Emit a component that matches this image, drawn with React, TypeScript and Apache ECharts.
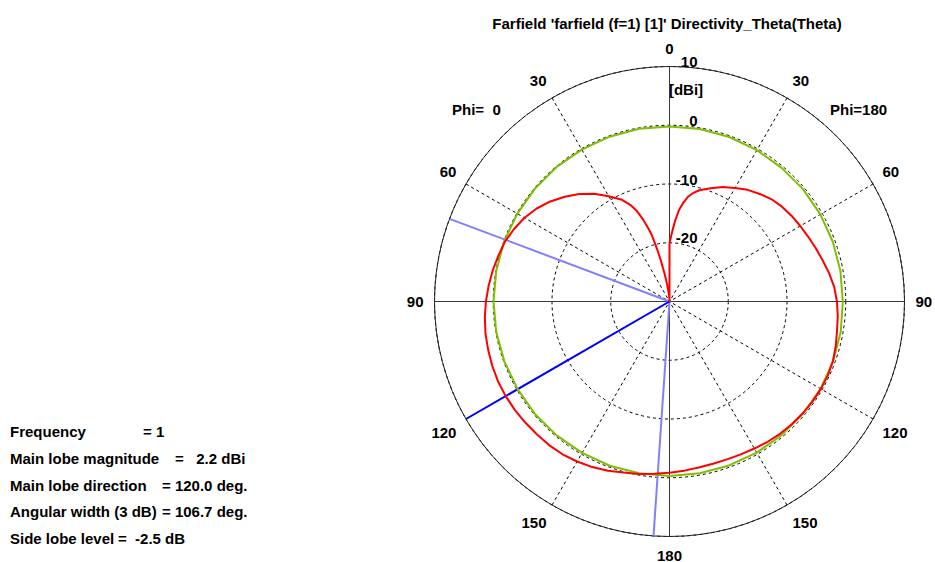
import React, { useEffect, useRef } from 'react';
import * as echarts from 'echarts';

// ---------------- data ----------------
const TITLE = "Farfield 'farfield (f=1) [1]' Directivity_Theta(Theta)";
const RADIUS_MIN = -30;
const RADIUS_MAX = 10;
const RADIUS_STEP = 10;
const ANGLE_STEP = 30;
const UNIT = '[dBi]';
const LEFT_CUT = 'Phi=  0';
const RIGHT_CUT = 'Phi=180';

// Directivity_Theta, Phi = 180 cut (right half), theta in degrees
const thetaPhi180 = [0, 2, 4, 6, 8, 10, 12, 15, 20, 25, 30, 35, 40, 45, 50, 55, 60, 65, 70, 75, 80, 85, 90, 95, 100, 105, 110, 115, 120, 125, 130, 135, 140, 145, 150, 155, 160, 165, 170, 175, 180];
const dirPhi180 = [-20.1, -18.3, -16.2, -14.3, -13.0, -11.9, -11.2, -10.4, -9.5, -8.5, -7.7, -6.8, -6.1, -5.4, -4.95, -4.6, -4.3, -3.95, -3.5, -3.0, -2.4, -1.85, -1.5, -1.25, -1.05, -0.7, -0.4, -0.25, -0.25, -0.3, -0.4, -0.5, -0.65, -0.85, -1.1, -1.3, -1.4, -1.4, -1.3, -1.1, -0.85];

// Directivity_Theta, Phi = 0 cut (left half), theta in degrees
const thetaPhi0 = [0, 4, 8, 10, 12, 13, 14, 15, 16, 18, 20, 22, 25, 30, 35, 40, 45, 50, 55, 60, 65, 70, 75, 80, 85, 90, 95, 100, 105, 110, 115, 120, 125, 130, 135, 140, 145, 150, 155, 160, 165, 170, 175, 180];
const dirPhi0 = [-30, -29, -27, -25.3, -22.8, -21.4, -19.8, -18.2, -17.2, -15.2, -13.5, -12.3, -10.9, -9.3, -7.6, -6.1, -4.8, -3.5, -2.4, -1.5, -0.8, -0.2, 0.15, 0.55, 0.9, 1.25, 1.55, 1.8, 1.95, 2.1, 2.2, 2.2, 2.15, 2.05, 1.95, 1.9, 1.75, 1.45, 1.1, 0.65, 0.15, -0.2, -0.55, -0.85];

// reference (green) trace, theta 0..180 on each side
const thetaRef = [0, 10, 20, 30, 40, 50, 60, 70, 80, 90, 100, 110, 120, 130, 140, 150, 160, 170, 180];
const refRight = [-0.2, -0.2, -0.2, -0.25, -0.3, -0.3, -0.35, -0.4, -0.45, -0.5, -0.4, -0.35, -0.3, -0.3, -0.3, -0.3, -0.3, -0.3, -0.3];
const refLeft = [-0.2, -0.15, -0.15, -0.15, -0.1, -0.1, -0.1, -0.05, -0.05, -0.05, -0.05, -0.1, -0.15, -0.15, -0.2, -0.25, -0.25, -0.3, -0.3];

// main lobe and 3 dB beam edges (theta on Phi=0 side)
const mainLobeTheta = 120.0;
const beamEdgeTheta = [69.4, 176.1];

// summary
const infoLabels = ['Frequency', 'Main lobe magnitude', 'Main lobe direction', 'Angular width (3 dB)', 'Side lobe level'];
const infoValues = ['= 1', '=   2.2 dBi', '= 120.0 deg.', '= 106.7 deg.', '=  -2.5 dB'];

// ---------------- layout / style ----------------
const CX = 669.5;
const CY = 301.5;
const R = 235;
const FONT = 'bold 15px "Liberation Sans", Arial, sans-serif';
const FAMILY = '"Liberation Sans", Arial, sans-serif';

export default function App() {
  const ref = useRef<HTMLDivElement>(null);

  useEffect(() => {
    if (!ref.current) return;
    const chart = echarts.init(ref.current, undefined, { renderer: 'svg' });

    const leftAngle = (t: number) => 360 - t;

    const redData: number[][] = [[RADIUS_MIN, 0]];
    thetaPhi180.forEach((t, i) => redData.push([dirPhi180[i], t]));
    for (let i = thetaPhi0.length - 2; i >= 0; i--) {
      redData.push([dirPhi0[i], leftAngle(thetaPhi0[i])]);
    }

    const greenData: number[][] = [];
    thetaRef.forEach((t, i) => greenData.push([refRight[i], t]));
    for (let i = thetaRef.length - 2; i >= 0; i--) {
      greenData.push([refLeft[i], leftAngle(thetaRef[i])]);
    }

    const spoke = (theta: number) => [
      [RADIUS_MIN, leftAngle(theta)],
      [RADIUS_MAX, leftAngle(theta)],
    ];

    const lineBase = {
      type: 'line',
      coordinateSystem: 'polar',
      polarIndex: 0,
      symbol: 'none',
      showSymbol: false,
      silent: true,
      smooth: false,
    };

    const infoRowsY = [431, 458, 485, 511, 538];
    const infoValueX = [143, 175, 162, 162, 118];

    const graphics: any[] = [
      {
        type: 'text',
        x: 667,
        y: 23,
        style: { text: TITLE, font: FONT, fill: '#000', textAlign: 'center', textVerticalAlign: 'middle' },
      },
      {
        type: 'text',
        x: 452,
        y: 109,
        style: { text: LEFT_CUT, font: FONT, fill: '#000', textAlign: 'left', textVerticalAlign: 'middle' },
      },
      {
        type: 'text',
        x: 830,
        y: 109,
        style: { text: RIGHT_CUT, font: FONT, fill: '#000', textAlign: 'left', textVerticalAlign: 'middle' },
      },
      {
        type: 'text',
        x: 686,
        y: 89,
        style: { text: UNIT, font: FONT, fill: '#000', textAlign: 'center', textVerticalAlign: 'middle' },
      },
    ];
    infoLabels.forEach((lab, i) => {
      graphics.push({
        type: 'text',
        x: 10,
        y: infoRowsY[i],
        style: { text: lab, font: FONT, fill: '#000', textAlign: 'left', textVerticalAlign: 'middle' },
      });
      graphics.push({
        type: 'text',
        x: infoValueX[i],
        y: infoRowsY[i],
        style: { text: infoValues[i], font: FONT, fill: '#000', textAlign: 'left', textVerticalAlign: 'middle' },
      });
    });

    const option: any = {
      animation: false,
      backgroundColor: '#fff',
      polar: [
        { center: [CX, CY], radius: R },
        { center: [CX, CY], radius: R },
      ],
      angleAxis: [
        {
          polarIndex: 0,
          type: 'value',
          min: 0,
          max: 360,
          interval: ANGLE_STEP,
          startAngle: 90,
          clockwise: true,
          axisLine: { show: true, lineStyle: { color: '#222', width: 1 } },
          axisTick: { show: false },
          axisLabel: {
            show: true,
            margin: 11,
            color: '#000',
            fontFamily: FAMILY,
            fontWeight: 'bold',
            fontSize: 15,
            formatter: (v: number) => (v >= 360 ? '' : String(v <= 180 ? v : 360 - v)),
          },
          splitLine: { show: true, lineStyle: { color: '#000', width: 1, type: [3, 3] } },
          z: 1,
        },
        {
          polarIndex: 1,
          type: 'value',
          min: 0,
          max: 360,
          interval: 90,
          startAngle: 90,
          clockwise: true,
          axisLine: { show: false },
          axisTick: { show: false },
          axisLabel: { show: false },
          splitLine: { show: true, lineStyle: { color: '#3a3a3a', width: 1, type: 'solid' } },
          z: 2,
        },
      ],
      radiusAxis: [
        {
          polarIndex: 0,
          type: 'value',
          min: RADIUS_MIN,
          max: RADIUS_MAX,
          interval: RADIUS_STEP,
          axisLine: { show: false },
          axisTick: { show: false },
          axisLabel: {
            show: true,
            margin: -28,
            verticalAlign: 'bottom',
            lineHeight: 10,
            color: '#000',
            fontFamily: FAMILY,
            fontWeight: 'bold',
            fontSize: 15,
            formatter: (v: number) => (v === RADIUS_MIN ? '' : String(v)),
          },
          splitLine: { show: true, lineStyle: { color: '#000', width: 1, type: [3, 3] } },
          z: 1,
        },
        {
          polarIndex: 1,
          type: 'value',
          min: RADIUS_MIN,
          max: RADIUS_MAX,
          interval: RADIUS_STEP,
          axisLine: { show: false },
          axisTick: { show: false },
          axisLabel: { show: false },
          splitLine: { show: false },
        },
      ],
      series: [
        { ...lineBase, name: 'beam edge 1', data: spoke(beamEdgeTheta[0]), lineStyle: { color: '#8080ff', width: 2 }, z: 3 },
        { ...lineBase, name: 'beam edge 2', data: spoke(beamEdgeTheta[1]), lineStyle: { color: '#8080ff', width: 2 }, z: 3 },
        { ...lineBase, name: 'main lobe', data: spoke(mainLobeTheta), lineStyle: { color: '#0000ff', width: 2 }, z: 3 },
        { ...lineBase, name: 'reference', data: greenData, lineStyle: { color: '#7fbf00', width: 2 }, z: 4 },
        { ...lineBase, name: 'Directivity_Theta', data: redData, lineStyle: { color: '#ff0000', width: 2 }, z: 5 },
      ],
      graphic: graphics,
    };

    chart.setOption(option);
    return () => chart.dispose();
  }, []);

  return (
    <div
      ref={ref}
      style={{ position: 'fixed', left: 0, top: 0, width: 935, height: 562, background: '#fff' }}
    />
  );
}
